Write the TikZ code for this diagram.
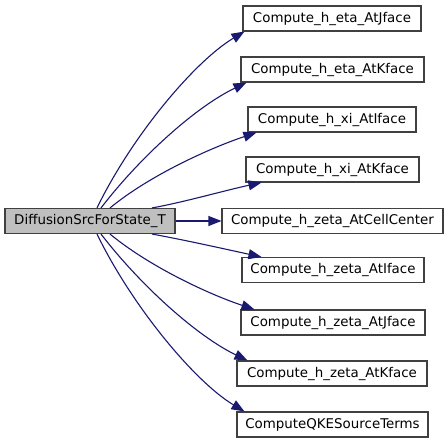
\documentclass[tikz,border=0pt]{standalone}
\usepackage{fontspec}
\setmainfont{DejaVu Sans}
\usetikzlibrary{arrows.meta}
\definecolor{edgeblue}{HTML}{191970}
\definecolor{boxgray}{HTML}{BFBFBF}
\definecolor{boxline}{HTML}{404040}
\tikzset{
  fnbox/.style={draw=boxline, line width=1.1pt, fill=white, minimum height=25pt, inner sep=0pt,
    font=\fontsize{13.4pt}{15pt}\selectfont, anchor=center},
  mainbox/.style={fnbox, fill=boxgray},
  callarrow/.style={draw=edgeblue, line width=1.1pt, -{Triangle[length=13pt,width=10pt]}, fill=none},
}
\begin{document}
\begin{tikzpicture}[x=1pt,y=-1pt]
\useasboundingbox (0,0) rectangle (448,443);
\node[mainbox, minimum width=170pt] (main) at (90,221) {DiffusionSrcForState\_T};
\node[fnbox, minimum width=178pt] (t1) at (332,18.5) {Compute\_h\_eta\_AtJface};
\node[fnbox, minimum width=183pt] (t2) at (332.5,69.5) {Compute\_h\_eta\_AtKface};
\node[fnbox, minimum width=168pt] (t3) at (332,119.5) {Compute\_h\_xi\_AtIface};
\node[fnbox, minimum width=173pt] (t4) at (332.5,169.5) {Compute\_h\_xi\_AtKface};
\node[fnbox, minimum width=221pt] (t5) at (332.5,221) {Compute\_h\_zeta\_AtCellCenter};
\node[fnbox, minimum width=182pt] (t6) at (333,270) {Compute\_h\_zeta\_AtIface};
\node[fnbox, minimum width=184pt] (t7) at (333,322.5) {Compute\_h\_zeta\_AtJface};
\node[fnbox, minimum width=190pt] (t8) at (332,373.5) {Compute\_h\_zeta\_AtKface};
\node[fnbox, minimum width=191pt] (t9) at (332.5,424.5) {ComputeQKESourceTerms};
\draw[callarrow] ([xshift=7pt]main.north) .. controls +(35,-72) and +(-50,30) .. ([xshift=2pt]t1.south west);
\draw[callarrow] ([xshift=11pt]main.north) .. controls +(40,-52) and +(-50,24) .. ([xshift=6pt]t2.south west);
\draw[callarrow] ([xshift=20pt]main.north) .. controls +(40,-33) and +(-45,15) .. ([xshift=9pt]t3.south west);
\draw[callarrow] ([xshift=62pt]main.north) .. controls +(33,-6) and +(-37,8) .. ([xshift=16pt]t4.south west);
\draw[callarrow] (main.east) -- (t5.west);
\draw[callarrow] ([xshift=62pt]main.south) .. controls +(33,6) and +(-37,-8) .. ([xshift=20pt]t6.north west);
\draw[callarrow] ([xshift=20pt]main.south) .. controls +(40,33) and +(-45,-15) .. ([xshift=14pt]t7.north west);
\draw[callarrow] ([xshift=11pt]main.south) .. controls +(40,52) and +(-50,-24) .. ([xshift=11pt]t8.north west);
\draw[callarrow] ([xshift=7pt]main.south) .. controls +(35,72) and +(-50,-30) .. ([xshift=8pt]t9.north west);
\end{tikzpicture}
\end{document}
